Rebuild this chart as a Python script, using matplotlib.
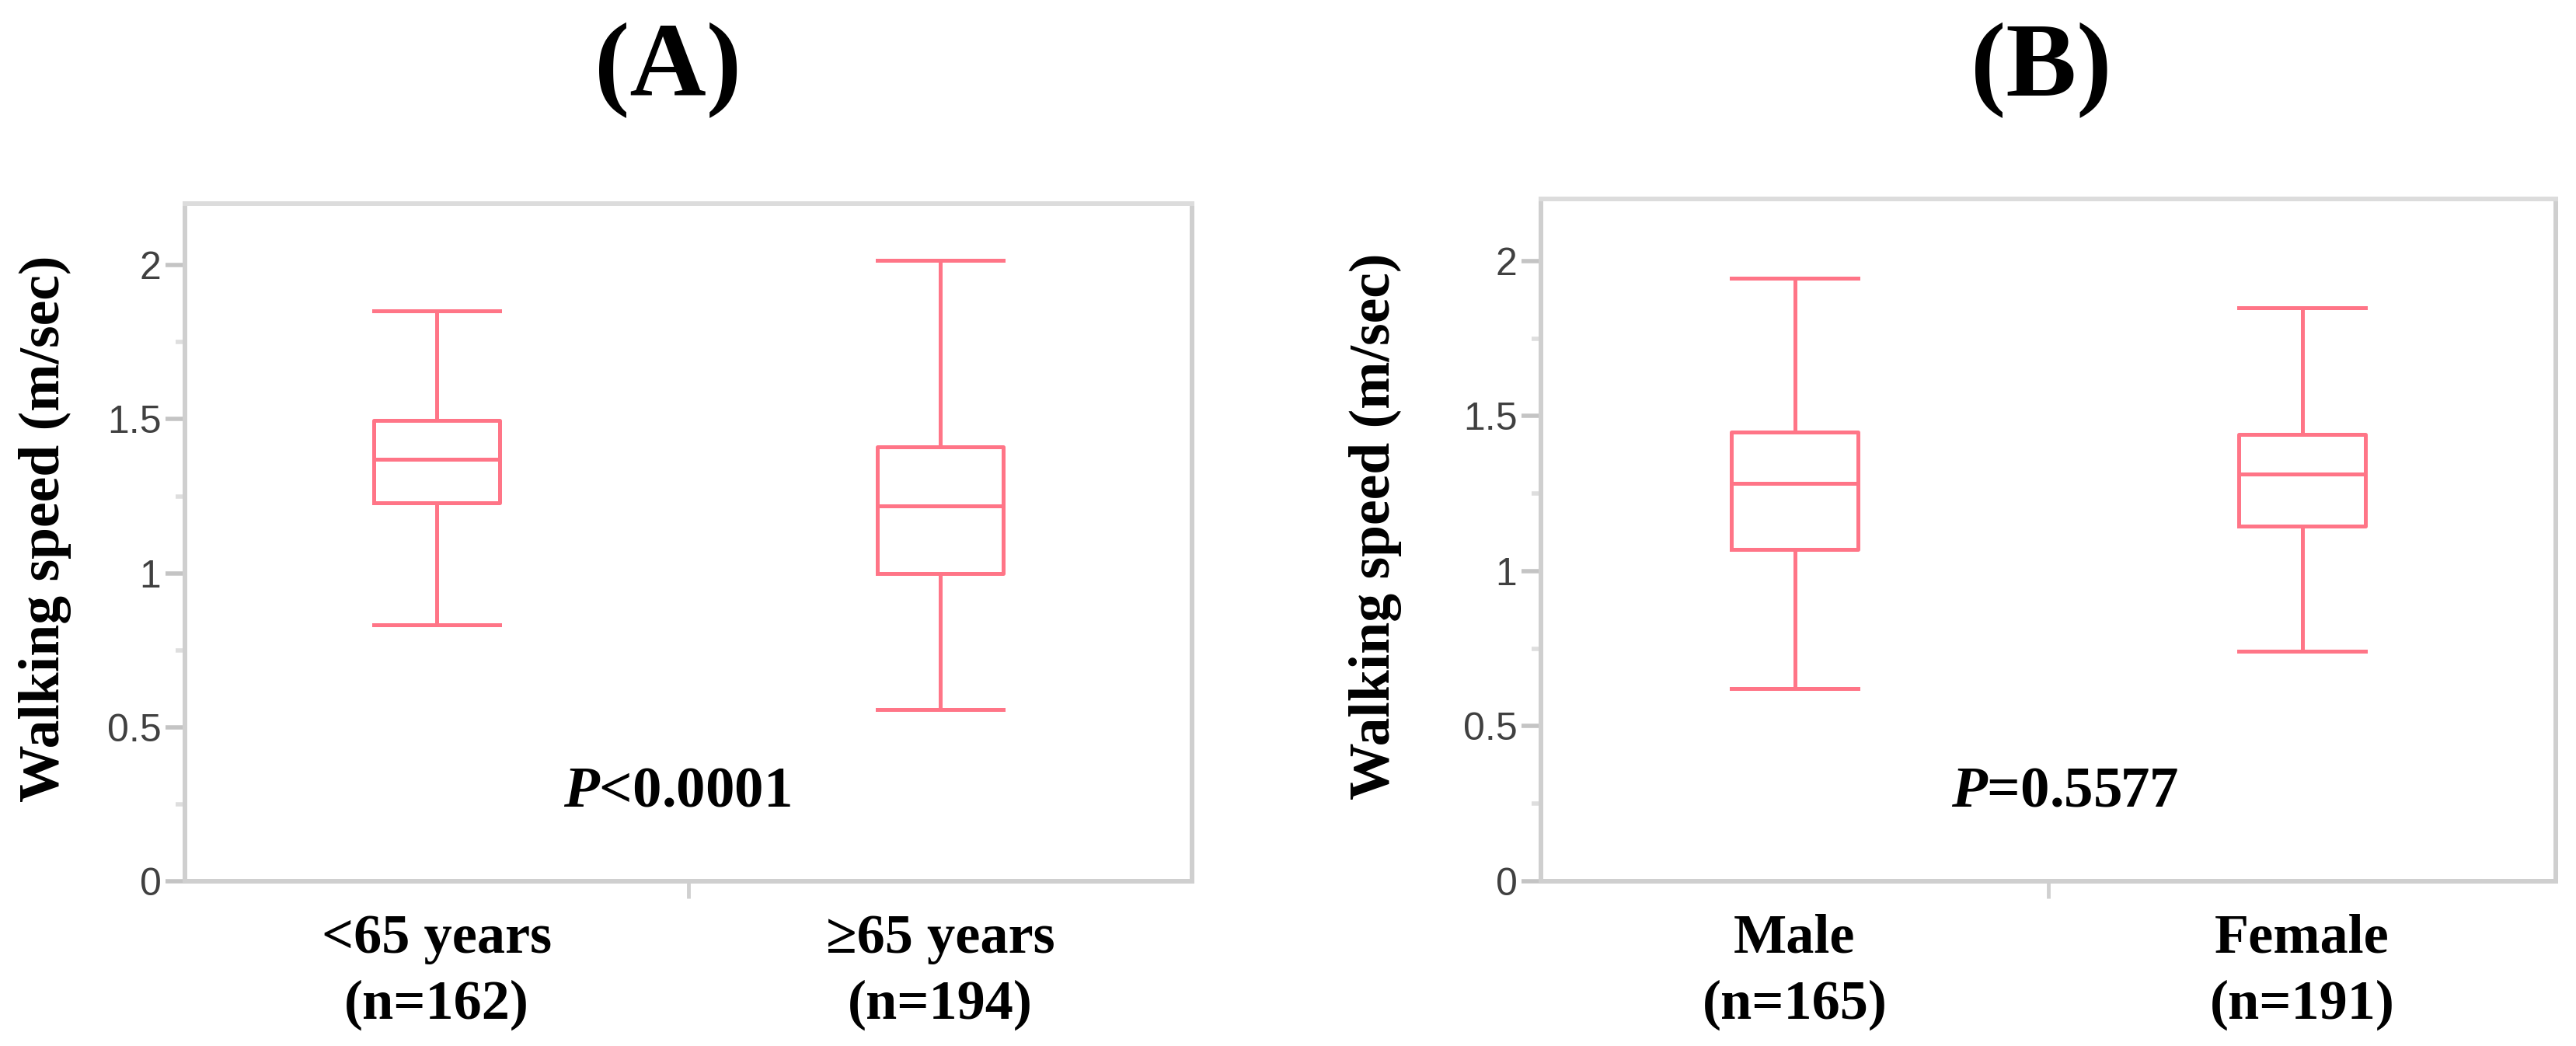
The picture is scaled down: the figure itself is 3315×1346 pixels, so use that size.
import matplotlib
matplotlib.use("Agg")
import matplotlib.pyplot as plt
from matplotlib.ticker import FixedLocator

# ---------------- data ----------------
cats_a = ["<65 years\n(n=162)", "\u226565 years\n(n=194)"]
whislo_a = [0.833, 0.558]
q1_a = [1.229, 0.998]
med_a = [1.369, 1.219]
q3_a = [1.496, 1.410]
whishi_a = [1.852, 2.016]
p_text_a = r"$\mathbfit{P}$<0.0001"

cats_b = ["Male\n(n=165)", "Female\n(n=191)"]
whislo_b = [0.622, 0.742]
q1_b = [1.071, 1.146]
med_b = [1.284, 1.312]
q3_b = [1.449, 1.441]
whishi_b = [1.944, 1.849]
p_text_b = r"$\mathbfit{P}$=0.5577"

yticks = [0, 0.5, 1, 1.5, 2]
ytick_labels = ["0", "0.5", "1", "1.5", "2"]
yminor = [0.25, 0.75, 1.25, 1.75]
ylabel = "Walking speed (m/sec)"
titles = ["(A)", "(B)"]

# ---------------- style ----------------
plt.rcParams["mathtext.fontset"] = "custom"
plt.rcParams["mathtext.bfit"] = "Liberation Serif:italic:bold"
plt.rcParams["mathtext.rm"] = "Liberation Serif:bold"

SERIF = ["Liberation Serif", "DejaVu Serif"]
NARROW = ["Liberation Sans Narrow", "Liberation Sans", "DejaVu Sans"]
BOXC = "#ff7587"
SPINEC = "#cfcfcf"

W, H = 3315, 1346
fig = plt.figure(figsize=(W / 100, H / 100), dpi=100)
fig.patch.set_facecolor("white")

axA = fig.add_axes([238 / W, 212 / H, 1296 / W, 872 / H])
axB = fig.add_axes([1983 / W, 212 / H, 1306 / W, 878 / H])


def make_stats(lo, q1, med, q3, hi):
    return [dict(whislo=a, q1=b, med=c, q3=d, whishi=e, fliers=[])
            for a, b, c, d, e in zip(lo, q1, med, q3, hi)]


def style_axes(ax, stats, cats, ptext, px, py, label_x):
    lw = 3.6
    ax.bxp(stats, positions=[1, 2], widths=0.25, capwidths=0.25,
           showfliers=False, patch_artist=False,
           boxprops=dict(color=BOXC, linewidth=lw),
           whiskerprops=dict(color=BOXC, linewidth=lw),
           capprops=dict(color=BOXC, linewidth=lw),
           medianprops=dict(color=BOXC, linewidth=lw))
    ax.set_xlim(0.5, 2.5)
    ax.set_ylim(0, 2.2)
    for side, sp in ax.spines.items():
        sp.set_color(SPINEC if side != "top" else "#dcdcdc")
        sp.set_linewidth(4.3)
    ax.set_xticks([1, 2])
    ax.set_xticklabels(cats, fontfamily=SERIF, fontweight="bold",
                       fontsize=52, linespacing=1.4)
    ax.xaxis.set_minor_locator(FixedLocator([1.5]))
    ax.tick_params(axis="x", which="major", length=0, pad=30)
    ax.tick_params(axis="x", which="minor", length=16, width=3.5,
                   color="#d0d0d0")
    ax.set_yticks(yticks)
    ax.set_yticklabels(ytick_labels, fontfamily=NARROW, fontsize=36,
                       color="#404040")
    ax.yaxis.set_minor_locator(FixedLocator(yminor))
    ax.tick_params(axis="y", which="major", length=18, width=4,
                   color="#c4c4c4", pad=4)
    ax.tick_params(axis="y", which="minor", length=9, width=4,
                   color="#dedede")
    ax.text(px, py, ptext, ha="center", va="center", fontsize=54,
            fontfamily=SERIF, fontweight="bold")
    ax.text(label_x, 0.52, ylabel, transform=ax.transAxes, rotation=90,
            ha="center", va="center", fontsize=53, fontfamily=SERIF,
            fontweight="bold")


style_axes(axA, make_stats(whislo_a, q1_a, med_a, q3_a, whishi_a), cats_a,
           p_text_a, 1.477, 0.288, (58 - 238) / 1296)
style_axes(axB, make_stats(whislo_b, q1_b, med_b, q3_b, whishi_b), cats_b,
           p_text_b, 1.532, 0.286, (1770 - 1983) / 1306)

fig.text(860 / W, 1 - 90 / H, titles[0], ha="center", va="center",
         fontsize=98, fontfamily=SERIF, fontweight="bold")
fig.text(2627 / W, 1 - 90 / H, titles[1], ha="center", va="center",
         fontsize=98, fontfamily=SERIF, fontweight="bold")

fig.savefig("out.png", dpi=100, facecolor="white")
